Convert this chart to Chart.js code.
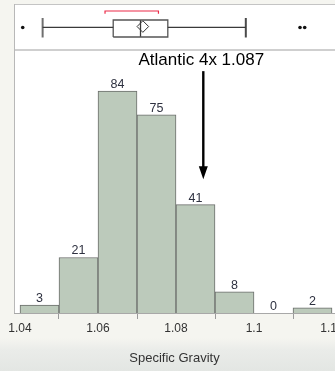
<!DOCTYPE html>
<html>
<head>
<meta charset="utf-8">
<script src="https://cdn.jsdelivr.net/npm/chart.js@4/dist/chart.umd.min.js"></script>
<style>
  html, body {
    margin: 0; padding: 0; width: 335px; height: 371px; overflow: hidden;
    background: linear-gradient(to bottom, #f5f5f0 0px, #f5f5f0 338px, #eaece9 350px, #e3e6e3 371px);
  }
  canvas { display: block; }
</style>
</head>
<body>
<canvas id="c" width="335" height="371"></canvas>
<script>
// Histogram: bin lower edges and counts
const binStarts = [1.04, 1.05, 1.06, 1.07, 1.08, 1.09, 1.10, 1.11];
const binWidth = 0.01;
const counts = [3, 21, 84, 75, 41, 8, 0, 2];
const xTicks = [1.04, 1.06, 1.08, 1.10, 1.12];

// Outlier box plot: lower whisker, Q1, median, Q3, upper whisker
const boxStats = [1.0458, 1.0639, 1.0709, 1.0779, 1.0979];
const meanValue = 1.0715;
const outliers = [1.0407, 1.1118, 1.1130];
const shortestHalf = [1.0618, 1.0755];

// Reference marker
const markerLabel = 'Atlantic 4x';
const markerValue = 1.087;

const FONT = "'Liberation Sans', Arial, sans-serif";
const LINE = '#3a3a3a';

// vertical layout of the box-plot strip (0..1 axis units)
const MID = 0.49, BOX_LO = 0.283, BOX_HI = 0.652, CAP_LO = 0.272, CAP_HI = 0.696;
const BR_Y = 0.848, BR_TICK = 0.79;

const [wLo, q1, med, q3, wHi] = boxStats;

const seg = (pts, color, width, extra) => Object.assign({
  type: 'line', data: pts, xAxisID: 'x', yAxisID: 'yBox',
  borderColor: color, borderWidth: width, pointRadius: 0, fill: false,
  tension: 0, order: 1
}, extra || {});

const datasets = [
  {
    type: 'bar',
    data: binStarts.map((b, i) => ({ x: b + binWidth / 2, y: counts[i] })),
    xAxisID: 'x', yAxisID: 'y',
    backgroundColor: '#bccabb', borderColor: '#6a6d6a', borderWidth: 1,
    barPercentage: 1, categoryPercentage: 1, borderSkipped: 'bottom', order: 2
  },
  // whiskers
  seg([{ x: wLo, y: MID }, { x: q1, y: MID }], LINE, 1.2),
  seg([{ x: q3, y: MID }, { x: wHi, y: MID }], LINE, 1.2),
  seg([{ x: wLo, y: CAP_LO }, { x: wLo, y: CAP_HI }], '#6f6f6f', 2),
  seg([{ x: wHi, y: CAP_LO }, { x: wHi, y: CAP_HI }], '#4a4a4a', 2),
  // box and median
  seg([{ x: q1, y: BOX_LO }, { x: q3, y: BOX_LO }, { x: q3, y: BOX_HI },
       { x: q1, y: BOX_HI }, { x: q1, y: BOX_LO }], '#555', 1.3,
      { fill: true, backgroundColor: '#ffffff' }),
  seg([{ x: med, y: BOX_LO }, { x: med, y: BOX_HI }], LINE, 1.3),
  // mean diamond
  seg([{ x: meanValue, y: MID + 0.02 }], LINE, 1, {
    showLine: false, pointStyle: 'rectRot', pointRadius: 5.8,
    pointBackgroundColor: 'rgba(255,255,255,0.9)', pointBorderColor: '#333', pointBorderWidth: 1
  }),
  // shortest half bracket
  seg([{ x: shortestHalf[0], y: BR_TICK }, { x: shortestHalf[0], y: BR_Y },
       { x: shortestHalf[1], y: BR_Y }, { x: shortestHalf[1], y: BR_TICK }], '#ec2a48', 1.2),
  // outliers
  seg(outliers.map(v => ({ x: v, y: MID })), '#111', 1, {
    showLine: false, pointStyle: 'circle', pointRadius: 1.8,
    pointBackgroundColor: '#111', pointBorderColor: '#111', pointBorderWidth: 0
  })
];

// white panels with gray frame lines
const framePlugin = {
  id: 'frame',
  beforeDatasetsDraw(chart) {
    const { ctx, chartArea: a } = chart;
    const yb = chart.scales.yBox;
    ctx.save();
    ctx.fillStyle = '#ffffff';
    ctx.fillRect(a.left, a.top, a.right - a.left, a.bottom - a.top);
    ctx.strokeStyle = '#c4c4c4';
    ctx.lineWidth = 1;
    ctx.beginPath();
    ctx.moveTo(a.left, a.top + 0.5); ctx.lineTo(a.right, a.top + 0.5);
    ctx.stroke();
    ctx.strokeStyle = '#cfcfcf';
    ctx.lineWidth = 2;
    ctx.beginPath();
    ctx.moveTo(a.left, Math.round(yb.bottom)); ctx.lineTo(a.right, Math.round(yb.bottom));
    ctx.stroke();
    ctx.strokeStyle = '#b8b8b8';
    ctx.lineWidth = 1;
    ctx.beginPath();
    ctx.moveTo(a.left + 0.5, a.top); ctx.lineTo(a.left + 0.5, a.bottom);
    ctx.stroke();
    ctx.restore();
  }
};

// count labels above each bar
const barLabels = {
  id: 'barLabels',
  afterDatasetsDraw(chart) {
    const { ctx } = chart;
    const meta = chart.getDatasetMeta(0);
    ctx.save();
    ctx.font = '12.5px ' + FONT;
    ctx.fillStyle = '#2e3140';
    ctx.textAlign = 'center';
    ctx.textBaseline = 'alphabetic';
    meta.data.forEach((el, i) => {
      ctx.fillText(String(counts[i]), el.x, el.y - 3);
    });
    ctx.restore();
  }
};

// labelled arrow pointing at the marker value
const markerPlugin = {
  id: 'marker',
  afterDatasetsDraw(chart) {
    const { ctx } = chart;
    const x = chart.scales.x.getPixelForValue(markerValue);
    const y = chart.scales.y;
    const yText = y.getPixelForValue(95.6);
    const yTop = y.getPixelForValue(91.5);
    const yTip = y.getPixelForValue(50.6);
    ctx.save();
    ctx.font = '17px ' + FONT;
    ctx.fillStyle = '#000';
    ctx.textAlign = 'center';
    ctx.textBaseline = 'middle';
    ctx.fillText(markerLabel + ' ' + markerValue.toFixed(3), x - 2, yText);
    ctx.strokeStyle = '#000';
    ctx.lineWidth = 2.4;
    ctx.beginPath();
    ctx.moveTo(x, yTop); ctx.lineTo(x, yTip - 10);
    ctx.stroke();
    ctx.fillStyle = '#000';
    ctx.beginPath();
    ctx.moveTo(x - 4.5, yTip - 13);
    ctx.lineTo(x + 4.5, yTip - 13);
    ctx.lineTo(x, yTip);
    ctx.closePath();
    ctx.fill();
    ctx.restore();
  }
};

new Chart(document.getElementById('c'), {
  type: 'bar',
  data: { datasets },
  options: {
    responsive: false,
    animation: false,
    events: [],
    layout: { autoPadding: false, padding: { top: 4, left: 14, right: 0, bottom: 0 } },
    plugins: { legend: { display: false }, tooltip: { enabled: false } },
    scales: {
      x: {
        type: 'linear',
        min: 1.04 - 6 / 3900,
        max: 1.04 + 315 / 3900,
        offset: false,
        position: 'bottom',
        afterBuildTicks(scale) { scale.ticks = xTicks.map(v => ({ value: v })); },
        afterFit(scale) { scale.height = 58; scale.paddingLeft = 0; scale.paddingRight = 0; },
        ticks: {
          autoSkip: false, maxRotation: 0, padding: 2,
          color: '#333', font: { family: FONT, size: 12 },
          callback: v => String(+v.toFixed(2))
        },
        grid: { display: true, drawOnChartArea: false, drawTicks: true, tickLength: 6, color: '#9a9a9a' },
        border: { display: true, color: '#a8a8a8', width: 1 },
        title: {
          display: true, text: 'Specific Gravity', color: '#333',
          font: { family: FONT, size: 13 }, padding: { top: 4, bottom: 4.5 }
        }
      },
      y: {
        type: 'linear', position: 'left', stack: 'panels', stackWeight: 263,
        min: 0, max: 99.5, display: false
      },
      yBox: {
        type: 'linear', position: 'left', stack: 'panels', stackWeight: 46,
        min: 0, max: 1, display: false
      }
    }
  },
  plugins: [framePlugin, barLabels, markerPlugin]
});
</script>
</body>
</html>
